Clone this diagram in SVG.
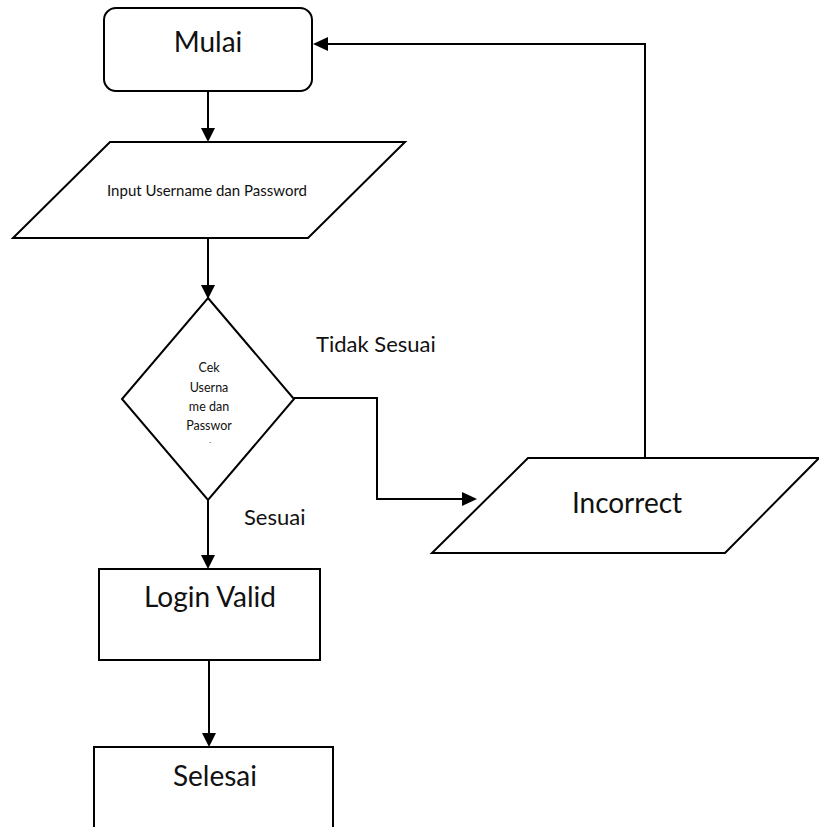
<svg xmlns="http://www.w3.org/2000/svg" width="819" height="827" viewBox="0 0 819 827">
  <defs>
    <style>
      .shape { fill: #fff; stroke: #000; stroke-width: 2; }
      .conn { fill: none; stroke: #000; stroke-width: 2; }
      .head { fill: #000; }
      text { font-family: Lato, "Liberation Sans", sans-serif; fill: #111; }
      .big { font-size: 28px; text-anchor: middle; }
      .mid { font-size: 22px; }
      .small { font-size: 15px; text-anchor: middle; }
      .tiny { font-size: 12.5px; text-anchor: middle; }
      .dot { font-size: 7px; text-anchor: middle; }
    </style>
  </defs>
  <rect width="819" height="827" fill="#fff"/>

  <!-- flow lines with their filled arrowheads -->
  <g id="connectors">
    <line class="conn" x1="208" y1="91" x2="208" y2="128"/>
    <path class="head" d="M201,128 L215,128 L208,142 Z"/>
    <line class="conn" x1="208" y1="238" x2="208" y2="285"/>
    <path class="head" d="M201,285 L215,285 L208,299 Z"/>
    <line class="conn" x1="208" y1="500" x2="208" y2="555"/>
    <path class="head" d="M201,555 L215,555 L208,569 Z"/>
    <line class="conn" x1="209" y1="660" x2="209" y2="733"/>
    <path class="head" d="M202,733 L216,733 L209,747 Z"/>
    <polyline class="conn" points="294,398 377,398 377,499 462,499"/>
    <path class="head" d="M462,492 L462,506 L477,499 Z"/>
    <polyline class="conn" points="645,458 645,44 327,44"/>
    <path class="head" d="M328,37 L328,51 L313,44 Z"/>
  </g>

  <g id="mulai">
    <rect class="shape" x="104" y="8" width="208" height="83" rx="12" ry="12"/>
    <text class="big" x="208" y="52">Mulai</text>
  </g>

  <g id="input">
    <polygon class="shape" points="110,142 405,142 308,238 13,238"/>
    <text class="small" x="207" y="196">Input Username dan Password</text>
  </g>

  <g id="cek">
    <polygon class="shape" points="208,298 294,399 208,500 122,399"/>
    <text class="tiny" x="209" y="372">Cek</text>
    <text class="tiny" x="209" y="392">Userna</text>
    <text class="tiny" x="209" y="411">me dan</text>
    <text class="tiny" x="209" y="430">Passwor</text>
    <text class="dot" x="210" y="443">.</text>
  </g>

  <g id="label-tidak">
    <text class="mid" x="316" y="352">Tidak Sesuai</text>
  </g>

  <g id="label-sesuai">
    <text class="mid" x="244" y="525">Sesuai</text>
  </g>

  <g id="incorrect">
    <polygon class="shape" points="528,458 819,458 725,553 432,553"/>
    <text class="big" x="627" y="513">Incorrect</text>
  </g>

  <g id="login-valid">
    <rect class="shape" x="99" y="569" width="221" height="91"/>
    <text class="big" x="210" y="607">Login Valid</text>
  </g>

  <g id="selesai">
    <rect class="shape" x="94" y="747" width="239" height="100"/>
    <text class="big" x="215" y="786">Selesai</text>
  </g>
</svg>
